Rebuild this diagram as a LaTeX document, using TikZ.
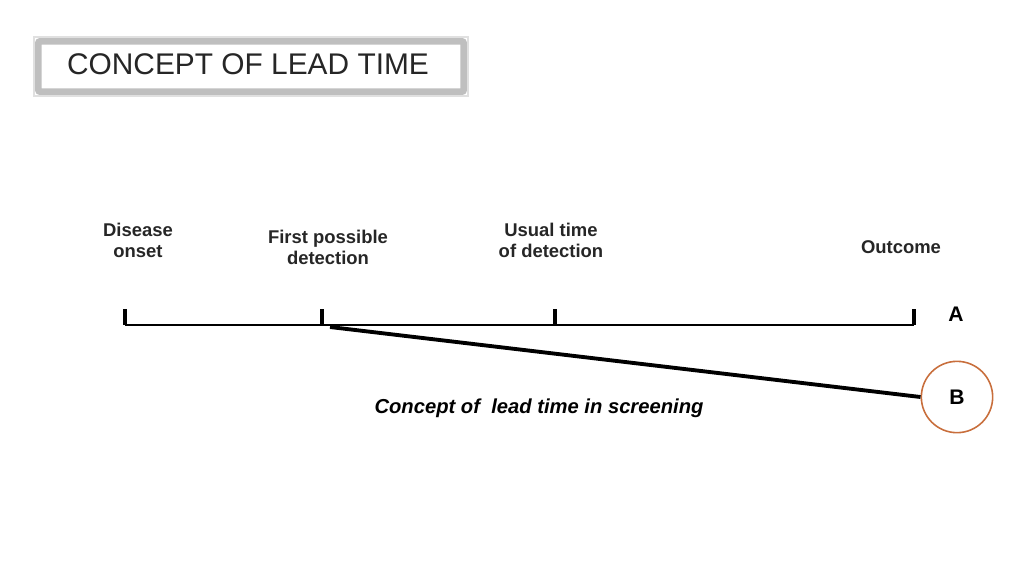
\documentclass[tikz,border=0pt]{standalone}
\usepackage{fontspec}
\setmainfont{Liberation Sans}
\usetikzlibrary{positioning}
\begin{document}
\begin{tikzpicture}[x=0.02cm, y=-0.02cm, inner sep=0pt,
	lbl/.style={font=\bfseries\fontsize{10.5}{12}\selectfont, align=center, text=black!85},
	tick/.style={line width=2.2pt}]
	
	\useasboundingbox (0,0) rectangle (1024,586);
	
	% Titel
	\draw[black!25, line width=4pt, rounded corners=2pt] (38,41) rectangle (464,92);
	\draw[black!12, line width=1.5pt] (34,37) rectangle (468,96);
	\node[font=\fontsize{17}{20}\selectfont, text=black!85](title) at (248,64) {CONCEPT OF LEAD TIME};
	
	% Zeitpunkte
	\node[lbl](onset) at (138,240) {Disease\\onset};
	\node[lbl](first) at (328,247) {First possible\\detection};
	\node[lbl](usual) at (551,240) {Usual time\\of detection};
	\node[lbl](outcome) at (901,247) {Outcome};
	
	\coordinate (t1) at (125,325);
	\coordinate (t2) at (322,325);
	\coordinate (t3) at (555,325);
	\coordinate (t4) at (914,325);
	
	% Achse
	\draw[line width=1.1pt] (t1) -- (t4);
	\foreach \t in {t1,t2,t3,t4}
		\draw[tick] (\t) -- ++(0,-16);
	
	% Linie B
	\node[circle, draw={rgb,255:red,200;green,110;blue,60}, line width=0.9pt, minimum size=58pt*0.7, font=\bfseries\fontsize{12}{14}\selectfont](B) at (957,397) {B};
	\node[font=\bfseries\fontsize{12}{14}\selectfont](A) at (956,314) {A};
	\coordinate (bstart) at (330,327);
	\draw[line width=2.2pt] (bstart) -- (B.west);
	
	\node[font=\bfseries\itshape\fontsize{11.5}{14}\selectfont](caption) at (539,408) {Concept of\ \ lead time in screening};
\end{tikzpicture}
\end{document}
